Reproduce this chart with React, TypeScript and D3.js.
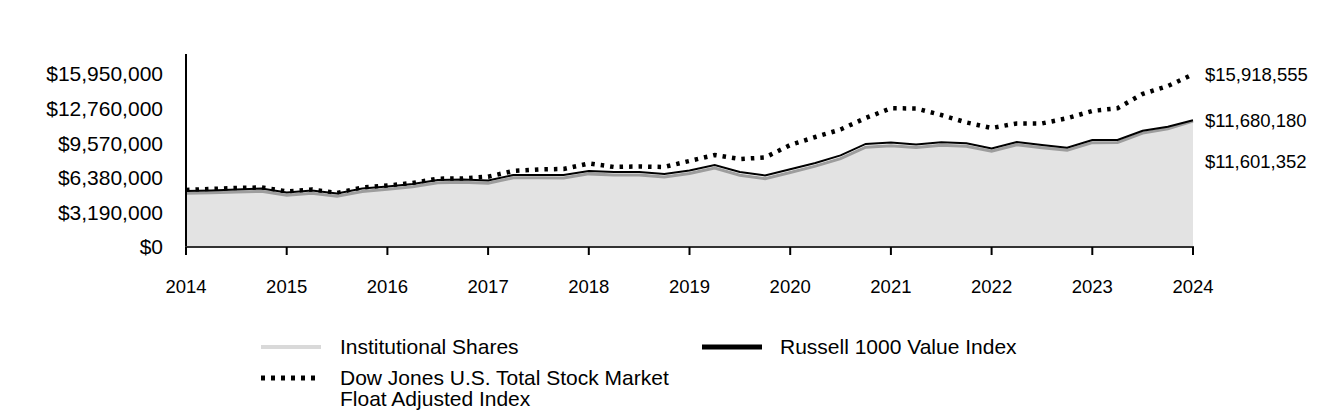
import React from "react";
import * as d3 from "d3";

const years = [2014, 2015, 2016, 2017, 2018, 2019, 2020, 2021, 2022, 2023, 2024];
const yTicks = [0, 3190000, 6380000, 9570000, 12760000, 15950000];

// Quarterly values (41 points, 2014 .. 2024)
const institutional = [
  4.95, 5.0, 5.07, 5.14, 4.78, 4.96, 4.68, 5.12, 5.33, 5.55, 5.92, 5.96, 5.88,
  6.38, 6.38, 6.37, 6.74, 6.64, 6.64, 6.46, 6.78, 7.28, 6.62, 6.3, 6.86, 7.45,
  8.15, 9.2, 9.34, 9.17, 9.37, 9.29, 8.82, 9.42, 9.15, 8.91, 9.62, 9.63, 10.5,
  10.9, 11.601352,
];
const russell = [
  5.16, 5.21, 5.3, 5.39, 5.02, 5.21, 4.93, 5.39, 5.58, 5.81, 6.18, 6.22, 6.13,
  6.64, 6.64, 6.64, 7.01, 6.91, 6.91, 6.73, 7.05, 7.56, 6.91, 6.59, 7.16, 7.74,
  8.44, 9.5, 9.63, 9.45, 9.65, 9.56, 9.08, 9.68, 9.4, 9.15, 9.86, 9.86, 10.72,
  11.09, 11.68018,
];
const dowJones = [
  5.26, 5.35, 5.44, 5.49, 5.12, 5.3, 4.98, 5.49, 5.67, 5.9, 6.3, 6.32, 6.48,
  7.01, 7.15, 7.19, 7.7, 7.38, 7.42, 7.38, 7.93, 8.48, 8.11, 8.25, 9.4, 10.14,
  10.83, 11.89, 12.79, 12.77, 12.17, 11.48, 10.97, 11.39, 11.39, 11.87, 12.54,
  12.79, 14.11, 14.84, 15.918555,
];

const endLabels = ["$15,918,555", "$11,680,180", "$11,601,352"];
const legendNames = [
  "Institutional Shares",
  "Russell 1000 Value Index",
  "Dow Jones U.S. Total Stock Market",
  "Float Adjusted Index",
];

const FONT = "'Liberation Sans', Arial, sans-serif";

export default function App() {
  const x = d3.scaleLinear().domain([2014, 2024]).range([186, 1193]);
  const y = d3.scaleLinear().domain([0, 17790000]).range([247, 54]);
  const t = (i: number) => 2014 + i / 4;

  const lineGen = d3
    .line<number>()
    .x((_, i) => x(t(i)))
    .y((v) => y(v * 1e6));
  const areaGen = d3
    .area<number>()
    .x((_, i) => x(t(i)))
    .y0(y(0))
    .y1((v) => y(v * 1e6));

  const fmt = (v: number) => "$" + d3.format(",")(v);

  return (
    <svg
      width={1344}
      height={420}
      style={{ position: "absolute", left: 0, top: 0, background: "#fff" }}
      fontFamily={FONT}
    >
      {/* Dow Jones dotted */}
      <path
        d={lineGen(dowJones) || ""}
        fill="none"
        stroke="#000"
        strokeWidth={4.5}
        strokeDasharray="3.5,6"
      />
      {/* Institutional area */}
      <path d={areaGen(institutional) || ""} fill="#e3e3e3" />
      <path
        d={lineGen(institutional) || ""}
        fill="none"
        stroke="#9d9d9d"
        strokeWidth={3}
      />
      {/* Russell */}
      <path
        d={lineGen(russell) || ""}
        fill="none"
        stroke="#000"
        strokeWidth={2}
      />

      {/* Axes */}
      <line x1={186} x2={186} y1={54} y2={248} stroke="#000" strokeWidth={2} />
      <line x1={185} x2={1194} y1={247} y2={247} stroke="#333" strokeWidth={2} />
      {years.map((yr) => (
        <g key={yr}>
          <line
            x1={x(yr)}
            x2={x(yr)}
            y1={247}
            y2={255}
            stroke="#000"
            strokeWidth={2}
          />
          <text
            x={x(yr)}
            y={293}
            textAnchor="middle"
            fontSize={18.5}
            fill="#000"
          >
            {yr}
          </text>
        </g>
      ))}
      {yTicks.map((v) => (
        <text
          key={v}
          x={163}
          y={y(v)}
          dy="0.35em"
          textAnchor="end"
          fontSize={21}
          fill="#000"
        >
          {fmt(v)}
        </text>
      ))}

      {/* End labels */}
      <text x={1205} y={y(dowJones[40] * 1e6)} dy="0.35em" fontSize={18.5}>
        {endLabels[0]}
      </text>
      <text x={1205} y={y(russell[40] * 1e6)} dy="0.35em" fontSize={18.5}>
        {endLabels[1]}
      </text>
      <text x={1205} y={y(institutional[40] * 1e6) + 40} dy="0.35em" fontSize={18.5}>
        {endLabels[2]}
      </text>

      {/* Legend */}
      <line x1={261} x2={321} y1={347} y2={347} stroke="#d9d9d9" strokeWidth={4} />
      <text x={340} y={347} dy="0.35em" fontSize={21}>
        {legendNames[0]}
      </text>
      <line x1={702} x2={762} y1={347} y2={347} stroke="#000" strokeWidth={5} />
      <text x={780} y={347} dy="0.35em" fontSize={21}>
        {legendNames[1]}
      </text>
      <line
        x1={261}
        x2={321}
        y1={378}
        y2={378}
        stroke="#000"
        strokeWidth={5}
        strokeDasharray="4,6"
      />
      <text x={340} y={378} dy="0.35em" fontSize={21}>
        {legendNames[2]}
      </text>
      <text x={340} y={399} dy="0.35em" fontSize={21}>
        {legendNames[3]}
      </text>
    </svg>
  );
}
